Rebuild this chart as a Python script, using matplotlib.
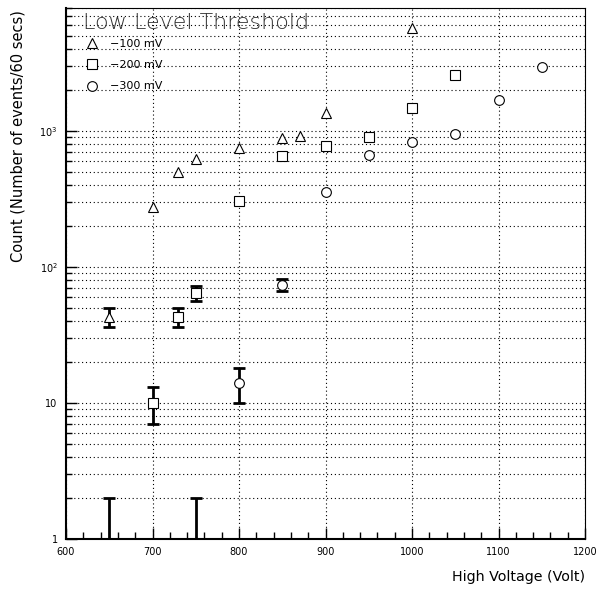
import matplotlib.pyplot as plt
from matplotlib.ticker import FixedLocator, LogLocator, NullFormatter

# -100 mV
hv_100 = [650, 700, 730, 750, 800, 850, 870, 900, 1000]
cnt_100 = [43, 276, 500, 620, 750, 890, 920, 1360, 5700]
err_100 = [7, 0, 0, 0, 0, 0, 0, 0, 0]

# -200 mV
hv_200 = [700, 730, 750, 800, 850, 900, 950, 1000, 1050]
cnt_200 = [10, 43, 64, 305, 655, 775, 900, 1480, 2570]
err_200 = [3, 7, 8, 0, 0, 0, 0, 0, 0]

# -300 mV
hv_300 = [800, 850, 900, 950, 1000, 1050, 1100, 1150]
cnt_300 = [14, 74, 356, 666, 830, 950, 1690, 2950]
err_300 = [4, 8, 0, 0, 0, 0, 0, 0]

# lone points sitting at the bottom of the plot
hv_low = [650, 750]
cnt_low = [1, 1]
err_low = [1, 1]

fig = plt.figure(figsize=(5.97, 5.90), dpi=100)
ax = fig.add_axes([0.1106, 0.0864, 0.8694, 0.9])

ax.set_yscale("log")
ax.set_xlim(600, 1200)
ax.set_ylim(1, 8000)

def draw(x, y, e, marker, ms, label):
    ax.plot(x, y, linestyle="none", marker=marker, markersize=ms,
            markerfacecolor="white", markeredgecolor="black",
            markeredgewidth=0.8, label=label, zorder=3)
    ex = [a for a, b in zip(x, e) if b > 0]
    ey = [a for a, b in zip(y, e) if b > 0]
    ee = [b for b in e if b > 0]
    if ex:
        ax.errorbar(ex, ey, yerr=ee, fmt="none", ecolor="black",
                    elinewidth=2, capsize=4, capthick=2, zorder=2)

draw(hv_100, cnt_100, err_100, "^", 7.5, "\u2212100 mV")
draw(hv_200, cnt_200, err_200, "s", 7, "\u2212200 mV")
draw(hv_300, cnt_300, err_300, "o", 7, "\u2212300 mV")
ax.errorbar(hv_low, cnt_low, yerr=[[0, 0], err_low], fmt="none", ecolor="black",
            elinewidth=2, capsize=4, capthick=2, zorder=2)

# ticks and grid in the ROOT look
ax.xaxis.set_major_locator(FixedLocator([600, 700, 800, 900, 1000, 1100, 1200]))
ax.xaxis.set_minor_locator(FixedLocator(range(600, 1201, 20)))
ax.yaxis.set_minor_locator(LogLocator(base=10, subs=range(2, 10), numticks=20))
ax.yaxis.set_minor_formatter(NullFormatter())
ax.set_yticks([1, 10, 100, 1000])
ax.set_yticklabels(["1", "10", "10$^2$", "10$^3$"])
ax.tick_params(which="both", direction="in", labelsize=7, pad=6)
ax.tick_params(which="major", length=8, width=1)
ax.tick_params(which="minor", length=5, width=1)
ax.tick_params(axis="y", which="minor", length=4)
dots = (0, (1, 2.5))
ax.grid(True, which="major", axis="x", linestyle=dots, color="black", linewidth=0.8)
ax.grid(True, which="both", axis="y", linestyle=dots, color="black", linewidth=0.8)

for s in ["left", "bottom"]:
    ax.spines[s].set_linewidth(1.5)
for s in ["right", "top"]:
    ax.spines[s].set_linewidth(0.8)

fig.text(585 / 597, 1 - 577 / 590, "High Voltage (Volt)", fontsize=10.3,
         ha="right", va="center")
fig.text(18 / 597, 1 - 10 / 590, "Count (Number of events/60 secs)", fontsize=10.5,
         ha="center", va="top", rotation=90)

ax.text(0.033, 0.99, "Low Level Threshold", transform=ax.transAxes,
        fontsize=16, va="top", ha="left", color="#333333", fontweight="light")
ax.legend(loc="upper left", bbox_to_anchor=(0.01, 0.96), frameon=False,
          fontsize=8, handletextpad=0.6, labelspacing=1.0)

plt.savefig("out.png", dpi=100)
